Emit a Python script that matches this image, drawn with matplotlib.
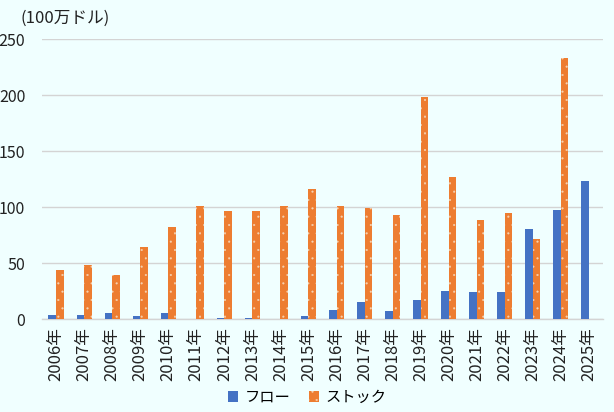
import numpy as np
import matplotlib
matplotlib.use('Agg')
import matplotlib.pyplot as plt

plt.rcParams['font.family'] = ['Noto Sans CJK JP', 'DejaVu Sans']
plt.rcParams['hatch.color'] = '#f7d2b0'
plt.rcParams['hatch.linewidth'] = 0.3

years = [str(y) + '年' for y in range(2006, 2026)]
flow = [3.5, 3.5, 5, 2.7, 5, 0, 1, 1, 0, 2.7,
        8, 15, 7, 17, 25, 24, 24, 80.5, 97.5, 123.5]
stock = [44, 48, 39, 64, 82, 101, 96.5, 96.5, 101, 116,
         101, 99, 93, 198.5, 127, 88.5, 94.5, 71.5, 233, 0]
yticks = [0, 50, 100, 150, 200, 250]

bg = '#f0ffff'
blue = '#4472c4'
orange = '#ed7d31'

fig = plt.figure(figsize=(6.14, 4.12), dpi=100, facecolor=bg)
ax = fig.add_axes([42 / 614, 93 / 412, 561 / 614, 280 / 412])
ax.set_facecolor(bg)

x = np.arange(len(years))
w = 0.27
ax.bar(x - w / 2, flow, w, color=blue, label='フロー', zorder=3)
ax.bar(x + w / 2, stock, w, color=orange, hatch='..', label='ストック', zorder=3)

ax.set_xlim(-0.5, len(years) - 0.5)
ax.set_ylim(0, 250)
ax.set_yticks(yticks)
ax.set_xticks(x)
ax.set_xticklabels(years, rotation=90, fontsize=12)
ax.tick_params(axis='both', length=0, colors='#222222')
ax.tick_params(axis='y', labelsize=11.5, pad=12)
ax.tick_params(axis='x', pad=6)
ax.yaxis.grid(True, color='#d4d4d4', linewidth=1, zorder=0)
for s in ['top', 'right', 'left']:
    ax.spines[s].set_visible(False)
ax.spines['bottom'].set_color('#d4d4d4')
ax.spines['bottom'].set_linewidth(1)

fig.text(20 / 614, 1 - 18 / 412, '(100万ドル)', fontsize=12, color='#222222',
         va='center', ha='left')

fig.legend(loc='center', bbox_to_anchor=(0.5, 1 - 397 / 412), ncol=2,
           frameon=False, fontsize=11, handlelength=0.7, handleheight=0.7,
           handletextpad=0.4, columnspacing=1.2)

fig.savefig('out.png', dpi=100, facecolor=bg)
